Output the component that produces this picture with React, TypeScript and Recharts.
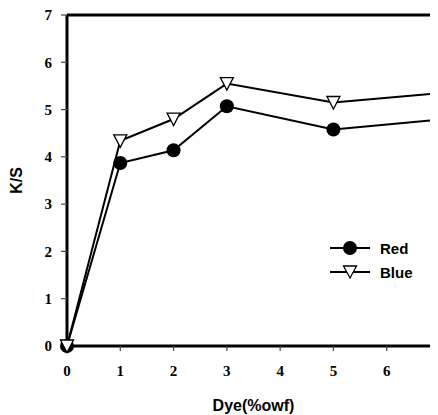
import {
  LineChart, Line, XAxis, YAxis, ReferenceLine, Legend
} from "recharts";

// dye concentration (%owf) and K/S values
const doses = [0, 1, 2, 3, 5, 7];
const redKS = [0, 3.87, 4.14, 5.07, 4.58, 4.79];
const blueKS = [0, 4.34, 4.8, 5.55, 5.15, 5.35];
const axisTicks = [0, 1, 2, 3, 4, 5, 6, 7];
const seriesNames = ["Red", "Blue"];

const data = doses.map((d, i) => ({ dose: d, red: redKS[i], blue: blueKS[i] }));

const tickStyle = { fontFamily: "'Liberation Serif', 'Times New Roman', serif", fontWeight: 700, fontSize: 15, fill: "#000" };
const titleStyle = { fontFamily: "'Liberation Sans', Arial, sans-serif", fontWeight: 700, fontSize: 16, fill: "#000" };

const TriangleDot = (props: any) => {
  const { cx, cy, index } = props;
  if (cx == null || cy == null) return null;
  return (
    <path
      key={`tri-${index}`}
      d={`M${cx - 6.5},${cy - 6} L${cx + 6.5},${cy - 6} L${cx},${cy + 6.5} Z`}
      fill="#fff"
      stroke="#000"
      strokeWidth={1.3}
    />
  );
};

const CircleDot = (props: any) => {
  const { cx, cy, index } = props;
  if (cx == null || cy == null) return null;
  return <circle key={`c-${index}`} cx={cx} cy={cy} r={7} fill="#000" stroke="none" />;
};

const LegendBox = () => (
  <svg width={110} height={50} style={{ display: "block" }}>
    <line x1={8} y1={12} x2={48} y2={12} stroke="#000" strokeWidth={2} />
    <circle cx={28} cy={12} r={7} fill="#000" />
    <text x={58} y={17.5} style={{ ...titleStyle, fontSize: 15 }}>{seriesNames[0]}</text>
    <line x1={8} y1={36} x2={48} y2={36} stroke="#000" strokeWidth={2} />
    <path d="M21.5,30 L34.5,30 L28,42 Z" fill="#fff" stroke="#000" strokeWidth={1.3} />
    <text x={58} y={41.5} style={{ ...titleStyle, fontSize: 15 }}>{seriesNames[1]}</text>
  </svg>
);

export default function App() {
  // plot runs past the right edge of the svg, like the cropped original
  return (
    <LineChart width={430} height={407} data={data} margin={{ top: 7, right: -2, left: 0, bottom: 0 }} style={{ overflow: "hidden" }}>
      <XAxis
        dataKey="dose"
        type="number"
        domain={[0, 7]}
        ticks={axisTicks}
        height={69}
        axisLine={{ stroke: "#000", strokeWidth: 3 }}
        tickLine={{ stroke: "#444", strokeWidth: 1.2 }}
        tickSize={5}
        tickMargin={14}
        tick={tickStyle}
        interval={0}
        label={{ value: "Dye(%owf)", position: "insideBottom", offset: 4, style: titleStyle }}
      />
      <YAxis
        type="number"
        domain={[0, 7]}
        ticks={axisTicks}
        width={59}
        axisLine={{ stroke: "#000", strokeWidth: 3 }}
        tickLine={{ stroke: "#444", strokeWidth: 1.2 }}
        tickSize={6}
        tickMargin={9}
        tick={tickStyle}
        interval={0}
        label={{ value: "K/S", angle: -90, position: "insideLeft", offset: 8, style: { ...titleStyle, textAnchor: "middle" } }}
      />
      <ReferenceLine y={7} stroke="#000" strokeWidth={3} />
      <ReferenceLine x={7} stroke="#000" strokeWidth={3} />
      <Legend
        layout="horizontal"
        verticalAlign="middle"
        align="center"
        wrapperStyle={{ left: 314, top: 228, right: "auto", bottom: "auto", width: 110, height: 50 }}
        content={() => <LegendBox />}
      />
      <Line
        dataKey="red"
        name={seriesNames[0]}
        stroke="#000"
        strokeWidth={2}
        dot={CircleDot}
        activeDot={false}
        isAnimationActive={false}
      />
      <Line
        dataKey="blue"
        name={seriesNames[1]}
        stroke="#000"
        strokeWidth={2}
        dot={TriangleDot}
        activeDot={false}
        isAnimationActive={false}
      />
    </LineChart>
  );
}
